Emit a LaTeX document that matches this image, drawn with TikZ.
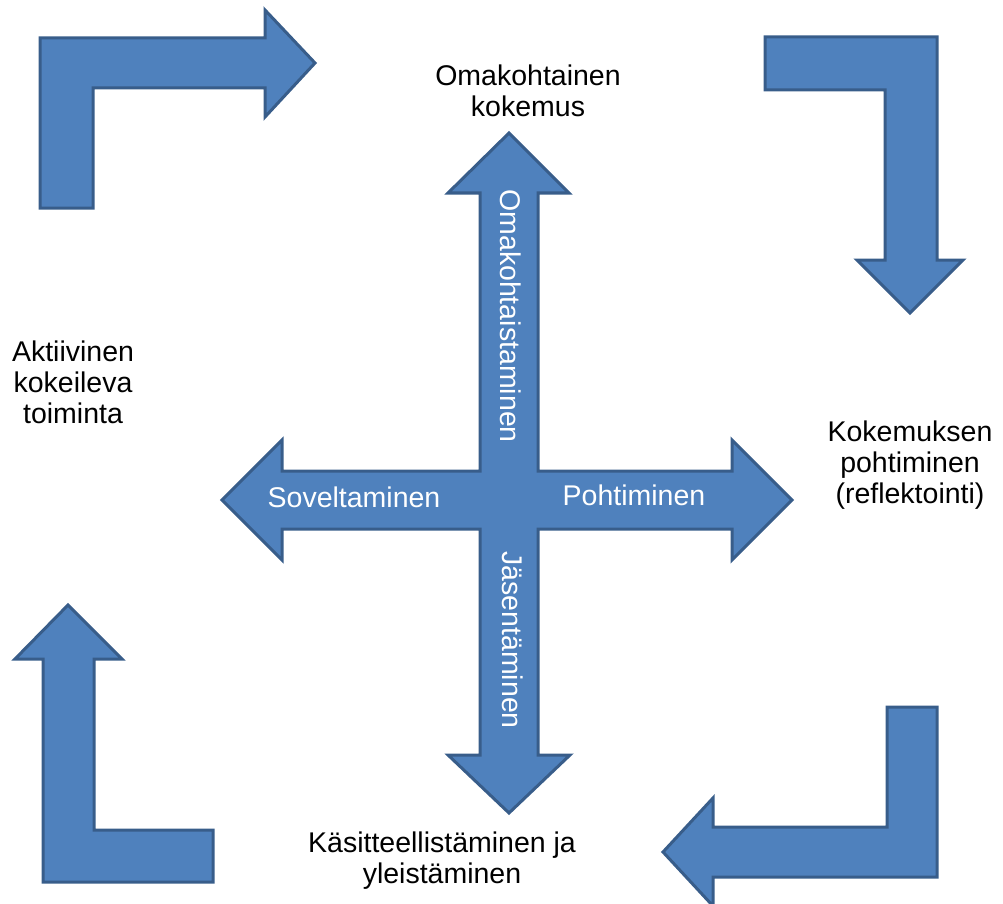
\documentclass[tikz,border=0pt]{standalone}
\usepackage{fontspec}
\setmainfont{Liberation Sans}
\definecolor{arrowfill}{HTML}{4F81BD}
\definecolor{arrowline}{HTML}{385D8A}
\begin{document}
\begin{tikzpicture}[x=1pt,y=-1pt,
  blockarrow/.style={fill=arrowfill, draw=arrowline, line width=3pt, line join=miter},
  outerlabel/.style={font=\fontsize{28.5}{31}\selectfont, text=black, align=center, inner sep=0pt},
  innerlabel/.style={font=\fontsize{28.5}{31}\selectfont, text=white, inner sep=0pt}]
\useasboundingbox (0,0) rectangle (1003,904);

% corner arrows running round the cycle
\draw[blockarrow] (40,208) -- (40,38) -- (265,38) -- (265,10) -- (315,63)
  -- (265,117) -- (265,88) -- (93,88) -- (93,208) -- cycle;
\draw[blockarrow] (765,37) -- (937,37) -- (937,260) -- (963,260) -- (910,313)
  -- (857,260) -- (885,260) -- (885,90) -- (765,90) -- cycle;
\draw[blockarrow] (887,707) -- (937,707) -- (937,877) -- (713,877) -- (713,906)
  -- (663,852) -- (713,798) -- (713,827) -- (887,827) -- cycle;
\draw[blockarrow] (68,605) -- (122,659) -- (94,659) -- (94,830) -- (213,830)
  -- (213,882) -- (43,882) -- (43,659) -- (15,659) -- cycle;

% central four-way arrow
\draw[blockarrow] (509,133) -- (569,193) -- (538,193) -- (538,471) -- (732,471)
  -- (732,440) -- (792,500) -- (732,560) -- (732,529) -- (538,529) -- (538,755)
  -- (570,755) -- (509,813) -- (448,755) -- (480,755) -- (480,529) -- (282,529)
  -- (282,560) -- (222,500) -- (282,440) -- (282,471) -- (480,471) -- (480,193)
  -- (448,193) -- cycle;

% texts on the arms
\node[innerlabel, rotate=-90] (omak) at (511,316) {Omakohtaistaminen};
\node[innerlabel, rotate=-90] (jase) at (513,640) {Jäsentäminen};
\node[innerlabel, anchor=base] (sove) at (354,507) {Soveltaminen};
\node[innerlabel, anchor=base] (poht) at (634,505) {Pohtiminen};

% stage labels
\node[outerlabel] (kokemus) at (528,90.5) {Omakohtainen\\kokemus};
\node[outerlabel] (reflektointi) at (910,465.6) {Kokemuksen\\pohtiminen\\(reflektointi)};
\node[outerlabel] (yleistys) at (442,861) {Käsitteellistäminen ja\\yleistäminen};
\node[outerlabel] (toiminta) at (73,382.6) {Aktiivinen\\kokeileva\\toiminta};
\end{tikzpicture}
\end{document}
